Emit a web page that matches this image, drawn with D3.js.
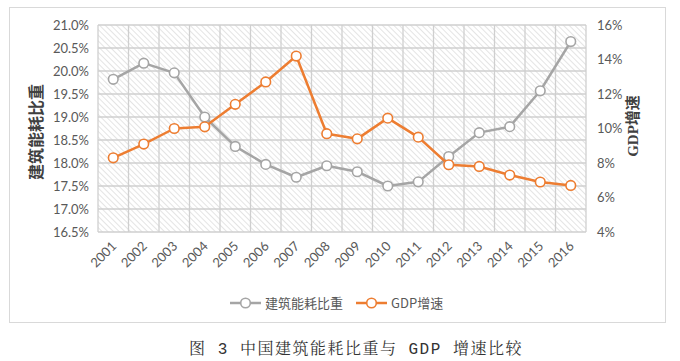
<!DOCTYPE html>
<html><head><meta charset="utf-8">
<script src="https://cdn.jsdelivr.net/npm/d3@7"></script>
<style>body{margin:0;background:#fff}svg{display:block}</style>
</head><body>
<svg id="c" width="680" height="361"></svg>
<script>
const years = ["2001","2002","2003","2004","2005","2006","2007","2008","2009","2010","2011","2012","2013","2014","2015","2016"];
const buildingShare = [19.82,20.17,19.96,19.0,18.36,17.97,17.69,17.94,17.81,17.5,17.59,18.14,18.66,18.79,19.57,20.64];
const gdpGrowth = [8.3,9.1,10.0,10.1,11.4,12.7,14.2,9.7,9.4,10.6,9.5,7.9,7.8,7.3,6.9,6.7];
const leftTicks = [16.5,17,17.5,18,18.5,19,19.5,20,20.5,21];
const rightTicks = [4,6,8,10,12,14,16];
const seriesNames = ["建筑能耗比重","GDP增速"];
const colors = ["#a5a5a5","#ed7d31"];

const svg = d3.select("#c");
const L=98,R=586,T=25,B=232;
const x = d3.scaleBand().domain(years).range([L,R]);
const yL = d3.scaleLinear().domain([16.5,21]).range([B,T]);
const yR = d3.scaleLinear().domain([4,16]).range([B,T]);

// outer border
svg.append("rect").attr("x",9.5).attr("y",7.5).attr("width",656).attr("height",315)
  .attr("fill","#fff").attr("stroke","#d9d9d9");

// hatch pattern
const defs = svg.append("defs");
const pat = defs.append("pattern").attr("id","hatch").attr("patternUnits","userSpaceOnUse")
  .attr("width",4).attr("height",4).attr("patternTransform","rotate(-45)");
pat.append("rect").attr("width",4).attr("height",4).attr("fill","#fff");
pat.append("line").attr("x1",0).attr("y1",0).attr("x2",0).attr("y2",4).attr("stroke","#d6d6d6").attr("stroke-width",1.3);
svg.append("rect").attr("x",L).attr("y",T).attr("width",R-L).attr("height",B-T).attr("fill","url(#hatch)");

// gridlines
const g = svg.append("g");
g.selectAll(".h").data(leftTicks).join("line")
  .attr("x1",L).attr("x2",R).attr("y1",d=>yL(d)).attr("y2",d=>yL(d))
  .attr("stroke","#cfcfcf").attr("stroke-width",1.3);
const bounds = years.map(y=>x(y)).concat([R]);
g.selectAll(".v").data(bounds).join("line")
  .attr("x1",d=>d).attr("x2",d=>d).attr("y1",T).attr("y2",B)
  .attr("stroke","#cfcfcf").attr("stroke-width",1.3);

// axes
const font = "Lato,'Open Sans',sans-serif";
const axL = svg.append("g").attr("transform",`translate(${L},0)`)
  .call(d3.axisLeft(yL).tickValues(leftTicks).tickFormat(d=>d.toFixed(1)+"%").tickSize(0).tickPadding(9));
const axR = svg.append("g").attr("transform",`translate(${R},0)`)
  .call(d3.axisRight(yR).tickValues(rightTicks).tickFormat(d=>d+"%").tickSize(0).tickPadding(11));
const axB = svg.append("g").attr("transform",`translate(0,${B})`)
  .call(d3.axisBottom(x).tickSize(0).tickPadding(0));
[axL,axR,axB].forEach(a=>{a.select(".domain").remove();
  a.selectAll("text").attr("fill","#595959").style("font-family",font).style("font-size","13px");});
axB.selectAll("text").attr("text-anchor","end").attr("dy",0)
  .attr("transform","translate(4,15) rotate(-45)");

// axis titles
svg.append("text").attr("transform","translate(42,132) rotate(-90)").attr("text-anchor","middle")
  .style("font-family","'Noto Sans CJK SC',sans-serif").style("font-size","16px").style("font-weight","bold")
  .attr("fill","#404040").text(seriesNames[0]);
svg.append("text").attr("transform","translate(638,126) rotate(-90)").attr("text-anchor","middle")
  .style("font-family","'Liberation Serif','Noto Sans CJK SC',serif").style("font-size","15px").style("font-weight","bold")
  .attr("fill","#404040").text("GDP增速");

// lines
const cx = d=>x(d)+x.bandwidth()/2;
const sets = [[buildingShare,yL],[gdpGrowth,yR]];
sets.forEach(([vals,sc],i)=>{
  const line = d3.line().x((d,j)=>cx(years[j])).y(d=>sc(d));
  svg.append("path").datum(vals).attr("d",line).attr("fill","none")
    .attr("stroke",colors[i]).attr("stroke-width",2.5).attr("stroke-linejoin","round");
  svg.selectAll(null).data(vals).join("circle")
    .attr("cx",(d,j)=>cx(years[j])).attr("cy",d=>sc(d)).attr("r",4.8)
    .attr("fill","#fff").attr("stroke",colors[i]).attr("stroke-width",1.6);
});

// legend
const lg = svg.append("g");
const items = [{x:230,w:31,tx:265},{x:356,w:31,tx:391}];
items.forEach((it,i)=>{
  lg.append("line").attr("x1",it.x).attr("x2",it.x+it.w).attr("y1",303).attr("y2",303)
    .attr("stroke",colors[i]).attr("stroke-width",2.5);
  lg.append("circle").attr("cx",it.x+it.w/2).attr("cy",303).attr("r",4.8)
    .attr("fill","#fff").attr("stroke",colors[i]).attr("stroke-width",1.6);
  lg.append("text").attr("x",it.tx).attr("y",308).attr("fill","#595959")
    .style("font-family","'Noto Sans CJK SC',sans-serif").style("font-size","13px").text(seriesNames[i]);
});

// caption
svg.append("text").attr("x",356).attr("y",354).attr("text-anchor","middle").attr("fill","#333")
  .style("font-family","'Liberation Mono','Noto Serif CJK SC','Noto Sans CJK SC',monospace").style("font-size","16px")
  .style("letter-spacing","1.5px")
  .text("图 3 中国建筑能耗比重与 GDP 增速比较");
</script>
</body></html>
